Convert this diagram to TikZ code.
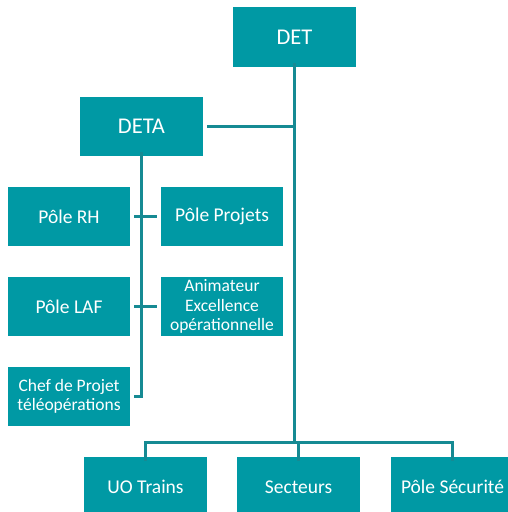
\documentclass[tikz,border=0pt]{standalone}
\usepackage{fontspec}
\setmainfont{Carlito}
\definecolor{boxfill}{RGB}{0,153,164}
\definecolor{linecol}{RGB}{22,138,147}
\tikzset{
  unit/.style={fill=boxfill, text=white, inner sep=0pt, align=center,
    minimum width=123pt, minimum height=59pt, font=\fontsize{19.5}{22}\selectfont},
  small/.style={unit, font=\fontsize{17.5}{19.3}\selectfont},
  big/.style={unit, font=\fontsize{22.5}{26}\selectfont},
  conn/.style={draw=linecol, line width=3pt}
}
\begin{document}
\begin{tikzpicture}[x=1pt,y=-1pt]
\useasboundingbox (0,0) rectangle (508,512);
\clip (0,0) rectangle (508,512);
\node[big, minimum height=60pt] (det) at (294.5,37) {DET};
\node[big] (deta) at (141.5,126.5) {DETA};
\node[unit, minimum width=122pt] (rh) at (69,216.5) {Pôle RH};
\node[unit, minimum width=122pt] (proj) at (222,216.5) {Pôle Projets};
\node[unit, minimum width=122pt] (laf) at (69,306.5) {Pôle LAF};
\node[small, minimum width=122pt] (anim) at (222,306.5) {Animateur\\Excellence\\opérationnelle};
\node[small, minimum width=122pt] (chef) at (69,396.5) {Chef de Projet\\téléopérations};
\node[unit, minimum height=60pt] (uo) at (145.5,487) {UO Trains};
\node[unit, minimum height=60pt] (sect) at (298.5,487) {Secteurs};
\node[unit, minimum height=60pt] (secu) at (452.5,487) {Pôle Sécurité};
% DET trunk
\coordinate (trunktop) at ([yshift=4pt]det.south);
\coordinate (bar) at (det.south |- 0,442);
\draw[conn] (trunktop) -- (bar);
% DETA to trunk
\draw[conn] ([xshift=4pt]deta.east) -- (deta.east -| det.south);
% DETA trunk
\coordinate (dtop) at ([yshift=4pt]deta.south);
\coordinate (dbot) at (deta.south |- chef.east);
\draw[conn] (dtop) -- (dbot) -- ([xshift=4pt]chef.east);
\draw[conn] ([xshift=4pt]rh.east) -- ([xshift=-4pt]proj.west);
\draw[conn] ([xshift=4pt]laf.east) -- ([xshift=-4pt]anim.west);
% bottom bar
\draw[conn] ([yshift=-4pt]uo.north) -- (uo.north |- bar) -- (secu.north |- bar) -- ([yshift=-4pt]secu.north);
\draw[conn] (sect.north |- bar) -- ([yshift=-4pt]sect.north);
\end{tikzpicture}
\end{document}
